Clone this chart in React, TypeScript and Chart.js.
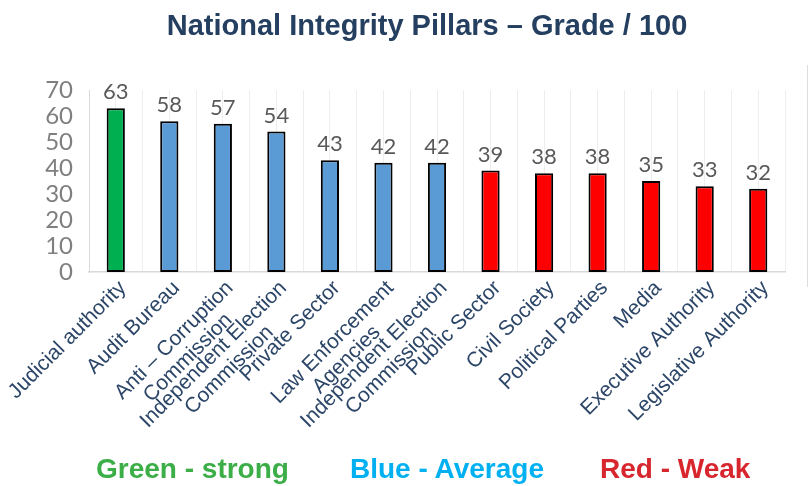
import React, { useEffect, useRef } from 'react';
import { Chart, registerables } from 'chart.js';

Chart.register(...registerables);

const titleText = 'National Integrity Pillars – Grade / 100';

const categories: (string | string[])[] = [
  'Judicial authority',
  'Audit Bureau',
  ['Anti – Corruption', 'Commission'],
  ['Independent Election', 'Commission'],
  'Private Sector',
  ['Law Enforcement', 'Agencies'],
  ['Independent Election', 'Commission'],
  'Public Sector',
  'Civil Society',
  'Political Parties',
  'Media',
  'Executive Authority',
  'Legislative Authority',
];

const grades = [63, 58, 57, 54, 43, 42, 42, 39, 38, 38, 35, 33, 32];

const groups = ['strong', 'average', 'average', 'average', 'average', 'average', 'average', 'weak', 'weak', 'weak', 'weak', 'weak', 'weak'];

const groupColors: Record<string, string> = {
  strong: '#00B050',
  average: '#5B9BD5',
  weak: '#FF0000',
};

const yMin = 0;
const yMax = 70;
const yStep = 10;

const legendItems = [
  { text: 'Green - strong', color: '#3BAE47', left: 96 },
  { text: 'Blue - Average', color: '#00B0F0', left: 350 },
  { text: 'Red - Weak', color: '#D8262E', left: 600 },
];

const SANS = "'Liberation Sans', Arial, sans-serif";
const X_FONT_SIZE = 21;

const valueLabels = {
  id: 'valueLabels',
  afterDatasetsDraw(chart: any) {
    const ctx = chart.ctx;
    const meta = chart.getDatasetMeta(0);
    const data = chart.data.datasets[0].data;
    ctx.save();
    ctx.font = "22px Lato, 'Open Sans', sans-serif";
    ctx.fillStyle = '#595959';
    ctx.textAlign = 'center';
    ctx.textBaseline = 'alphabetic';
    meta.data.forEach((bar: any, i: number) => {
      ctx.fillText(String(data[i]), bar.x, bar.y - 9);
    });
    ctx.restore();
  },
};

// Centre the lines of a wrapped label (as the original does) by padding the shorter lines.
function centredLines(label: string | string[]): string | string[] {
  if (!Array.isArray(label)) return label;
  const c = document.createElement('canvas').getContext('2d');
  if (!c) return label;
  c.font = `${X_FONT_SIZE}px ${SANS}`;
  const widths = label.map((l) => c.measureText(l).width);
  const max = Math.max(...widths);
  const sp = c.measureText(' ').width || 1;
  return label.map((l, i) => l + ' '.repeat(Math.round((max - widths[i]) / 2 / sp)));
}

export default function App() {
  const canvasRef = useRef<HTMLCanvasElement | null>(null);

  useEffect(() => {
    if (!canvasRef.current) return;
    const chart = new Chart(canvasRef.current, {
      type: 'bar',
      data: {
        labels: categories,
        datasets: [
          {
            data: grades,
            backgroundColor: groups.map((g) => groupColors[g]),
            borderColor: '#000000',
            borderWidth: 2,
            borderSkipped: false,
            barPercentage: 0.34,
            categoryPercentage: 1,
          },
        ],
      },
      options: {
        responsive: false,
        animation: false,
        devicePixelRatio: 1,
        layout: { padding: { top: 90, right: 26, bottom: 0, left: 0 } },
        plugins: {
          legend: { display: false },
          title: { display: false },
          tooltip: { enabled: false },
        },
        scales: {
          x: {
            type: 'category',
            position: 'bottom',
            offset: true,
            grid: { display: true, offset: true, color: '#EEEEEE', drawTicks: false, tickLength: 0 },
            border: { display: true, color: '#D9D9D9', width: 1.5 },
            ticks: {
              minRotation: 45,
              maxRotation: 45,
              autoSkip: false,
              padding: 5,
              labelOffset: 7,
              color: '#2C4668',
              font: { family: SANS, size: X_FONT_SIZE, lineHeight: 1.05 },
              callback: (_v: any, index: number) => centredLines(categories[index]),
            },
            afterFit: (s: any) => {
              s.height = 214;
              s.paddingLeft = 0;
              s.paddingRight = 0;
            },
          },
          x2: {
            type: 'category',
            position: 'bottom',
            offset: true,
            grid: { display: true, offset: false, color: '#EEEEEE', drawTicks: false, tickLength: 0 },
            border: { display: false },
            ticks: { display: false },
            afterFit: (s: any) => {
              s.height = 0;
              s.paddingLeft = 0;
              s.paddingRight = 0;
            },
          },
          y: {
            min: yMin,
            max: yMax,
            ticks: {
              stepSize: yStep,
              autoSkip: false,
              padding: 16,
              color: '#7F7F7F',
              font: { family: "Lato, 'Open Sans', sans-serif", size: 24, lineHeight: 1 },
            },
            grid: { display: false, drawTicks: false, tickLength: 0 },
            border: { display: true, color: '#D9D9D9', width: 1 },
            afterFit: (s: any) => {
              s.width = 89;
            },
          },
        },
      },
      plugins: [valueLabels],
    } as any);
    return () => chart.destroy();
  }, []);

  return (
    <div style={{ position: 'fixed', left: 0, top: 0, width: 811, height: 486, background: '#ffffff', overflow: 'hidden' }}>
      <canvas ref={canvasRef} width={811} height={486} style={{ position: 'absolute', left: 0, top: 0, width: 811, height: 486 }} />
      <div
        style={{
          position: 'absolute',
          left: 427,
          top: 11,
          transform: 'translateX(-50%)',
          whiteSpace: 'nowrap',
          fontFamily: SANS,
          fontWeight: 'bold',
          fontSize: 29,
          lineHeight: '29px',
          color: '#243F60',
        }}
      >
        {titleText}
      </div>
      {legendItems.map((item) => (
        <div
          key={item.text}
          style={{
            position: 'absolute',
            left: item.left,
            top: 455,
            whiteSpace: 'nowrap',
            fontFamily: SANS,
            fontWeight: 'bold',
            fontSize: 28,
            lineHeight: '28px',
            color: item.color,
          }}
        >
          {item.text}
        </div>
      ))}
      <div style={{ position: 'absolute', left: 807, top: 65, width: 1, height: 222, background: '#DDDDDD' }} />
    </div>
  );
}
